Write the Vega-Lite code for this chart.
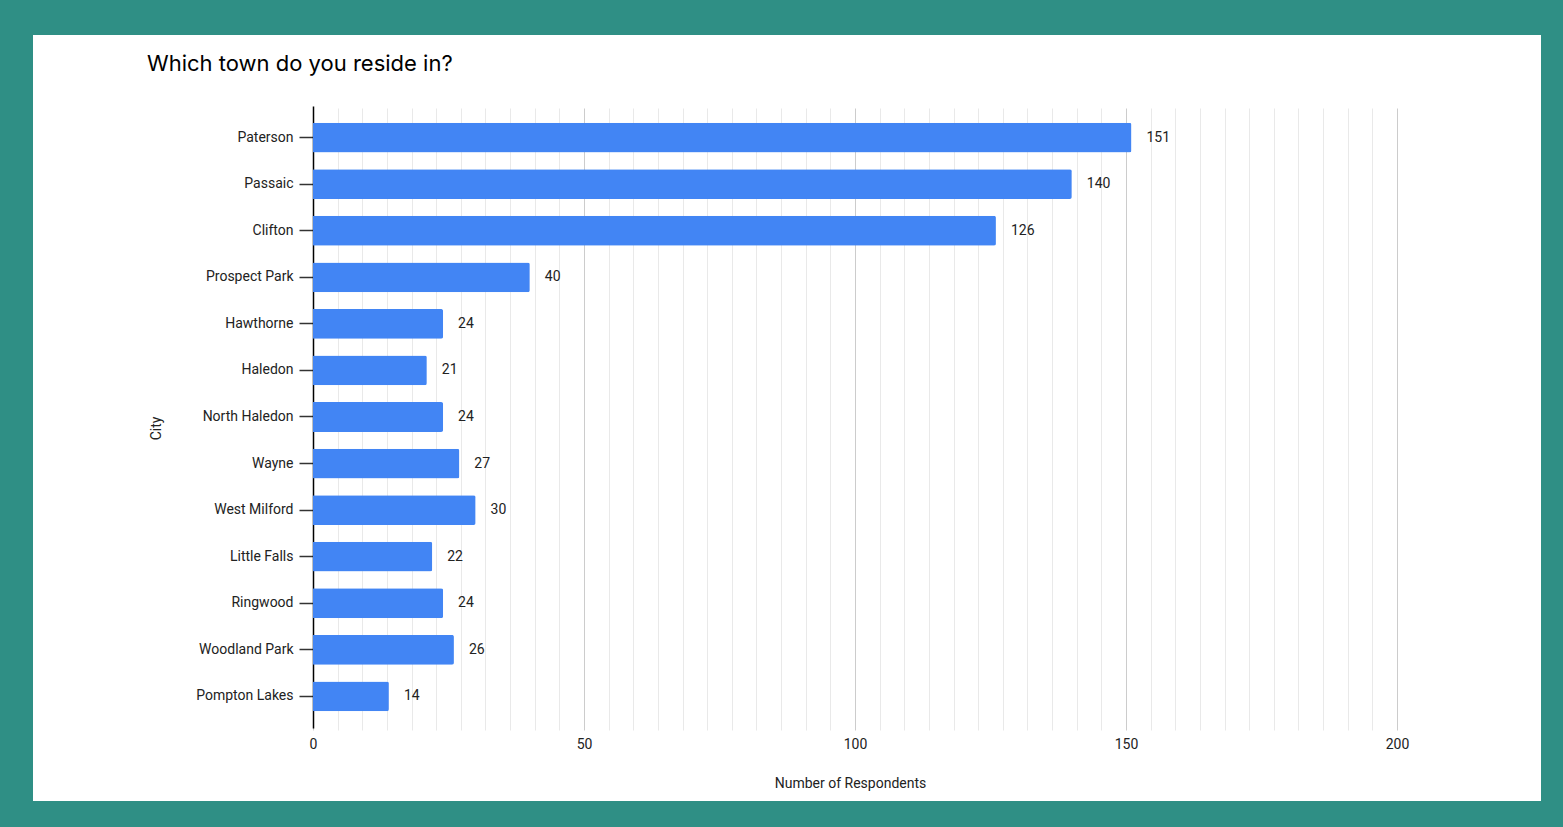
{
  "$schema": "https://vega.github.io/schema/vega-lite/v6.json",
  "autosize": "none",
  "width": 1508,
  "height": 766,
  "padding": {"left": 33, "top": 35, "right": 22, "bottom": 26},
  "background": "#2F8F85",
  "title": {
    "text": "Which town do you reside in?",
    "anchor": "start",
    "frame": "group",
    "orient": "top",
    "offset": 0,
    "dx": 114,
    "dy": 58,
    "baseline": "alphabetic",
    "fontSize": 22,
    "fontWeight": "normal",
    "color": "#000000",
    "font": "Inter"
  },
  "data": {
    "values": [
      {"City": "Paterson", "Respondents": 151},
      {"City": "Passaic", "Respondents": 140},
      {"City": "Clifton", "Respondents": 126},
      {"City": "Prospect Park", "Respondents": 40},
      {"City": "Hawthorne", "Respondents": 24},
      {"City": "Haledon", "Respondents": 21},
      {"City": "North Haledon", "Respondents": 24},
      {"City": "Wayne", "Respondents": 27},
      {"City": "West Milford", "Respondents": 30},
      {"City": "Little Falls", "Respondents": 22},
      {"City": "Ringwood", "Respondents": 24},
      {"City": "Woodland Park", "Respondents": 26},
      {"City": "Pompton Lakes", "Respondents": 14}
    ]
  },
  "encoding": {
    "y": {
      "field": "City",
      "type": "nominal",
      "sort": null,
      "scale": {"range": [71, 693], "paddingInner": 0.36, "paddingOuter": 0.36},
      "axis": {
        "orient": "left",
        "offset": -280,
        "domainColor": "#000000",
        "domainWidth": 1.5,
        "tickColor": "#333333",
        "tickSize": 14,
        "tickWidth": 1.5,
        "labelPadding": 6,
        "labelFontSize": 14,
        "labelColor": "#222222",
        "labelFont": "Roboto",
        "grid": false,
        "title": "City",
        "titleFont": "Roboto",
        "titleFontSize": 14,
        "titleFontWeight": "normal",
        "titleColor": "#222222",
        "titleX": -157,
        "titleY": 393,
        "titleAngle": -90,
        "titleAlign": "center",
        "titleBaseline": "middle"
      }
    },
    "x": {
      "field": "Respondents",
      "type": "quantitative",
      "scale": {"domain": [0, 200], "range": [280, 1364], "nice": false, "zero": true},
      "axis": {
        "orient": "bottom",
        "offset": -73,
        "values": [0, 4.54545, 9.09091, 13.63636, 18.18182, 22.72727, 27.27273, 31.81818, 36.36364, 40.90909, 45.45455, 50, 54.54545, 59.09091, 63.63636, 68.18182, 72.72727, 77.27273, 81.81818, 86.36364, 90.90909, 95.45455, 100, 104.54545, 109.09091, 113.63636, 118.18182, 122.72727, 127.27273, 131.81818, 136.36364, 140.90909, 145.45455, 150, 154.54545, 159.09091, 163.63636, 168.18182, 172.72727, 177.27273, 181.81818, 186.36364, 190.90909, 195.45455, 200],
        "labelExpr": "datum.value % 50 === 0 ? format(datum.value, 'd') : ''",
        "labelOverlap": false,
        "labelFlush": false,
        "domain": false,
        "ticks": false,
        "tickSize": 0,
        "labelPadding": 9,
        "labelFontSize": 14,
        "labelColor": "#222222",
        "labelFont": "Roboto",
        "grid": true,
        "gridColor": {"condition": {"test": "datum.value % 50 === 0", "value": "#cccccc"}, "value": "#e9e9e9"},
        "gridWidth": 1,
        "title": "Number of Respondents",
        "titleFont": "Roboto",
        "titleFontSize": 14,
        "titleFontWeight": "normal",
        "titleColor": "#222222",
        "titleX": 817,
        "titleY": 55,
        "titleAlign": "center",
        "titleBaseline": "middle"
      }
    }
  },
  "layer": [
    {
      "mark": {"type": "bar", "color": "#4285F4", "cornerRadiusEnd": 2}
    },
    {
      "mark": {"type": "text", "align": "left", "baseline": "middle", "dx": 15, "fontSize": 14, "font": "Roboto", "color": "#222222"},
      "encoding": {"text": {"field": "Respondents", "type": "quantitative"}}
    }
  ],
  "config": {
    "font": "Roboto",
    "view": {"fill": "#ffffff", "stroke": null}
  }
}
